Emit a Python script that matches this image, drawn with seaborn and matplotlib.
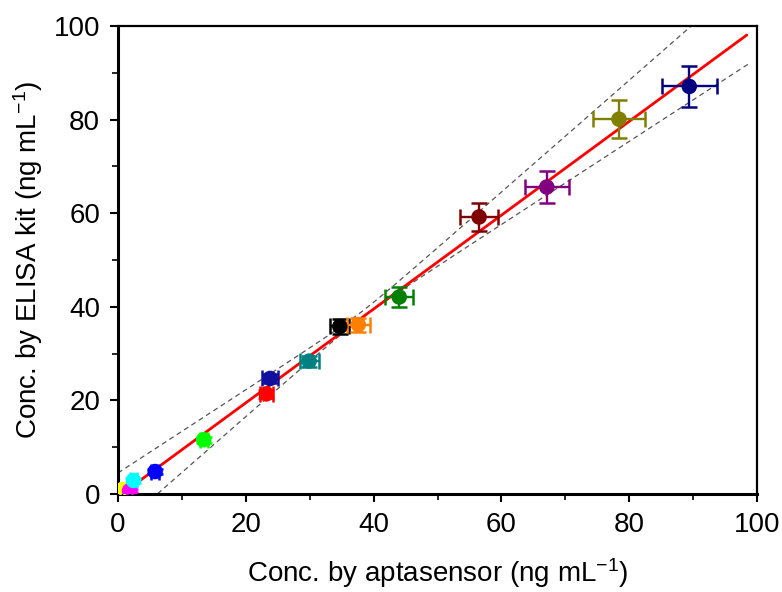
import numpy as np
import pandas as pd
import matplotlib
matplotlib.use('Agg')
import matplotlib.pyplot as plt
import seaborn as sns

# values
aptasensor = [0.6, 1.8, 2.4, 5.8, 13.4, 23.2, 23.8, 29.9, 34.7, 37.6, 44.0, 56.5, 67.1, 78.4, 89.4]
elisa = [0.9, 0.7, 2.9, 4.8, 11.6, 21.4, 24.7, 28.4, 35.8, 36.2, 42.1, 59.2, 65.6, 80.1, 87.1]
aptasensor_err = [0.3, 0.4, 0.5, 0.6, 0.6, 1.0, 1.2, 1.5, 1.5, 1.8, 2.2, 3.0, 3.4, 4.1, 4.3]
elisa_err = [0.3, 0.3, 0.5, 0.6, 0.6, 0.8, 1.0, 1.2, 1.5, 1.5, 2.1, 3.0, 3.4, 4.1, 4.4]
sample_colors = ['#ffff00', '#ff00ff', '#00ffff', '#0000ff', '#00ff00', '#ff0000', '#10109c',
                 '#008080', '#000000', '#ff8000', '#008000', '#800000', '#800080', '#808000', '#000080']

# red fit line drawn over this x range
fit_range = [0.3, 98.4]
# dashed confidence band: centre line and hyperbolic half-width
band_slope, band_intercept = 1.041, -1.4
band_x0, band_a, band_k = 38.0, 0.67, 0.1547
band_range = [0.0, 99.0]

df = pd.DataFrame({'apta': aptasensor, 'elisa': elisa,
                   'xerr': aptasensor_err, 'yerr': elisa_err,
                   'sample': [f's{i}' for i in range(len(aptasensor))]})

sns.set_style('ticks')
plt.rcParams['font.family'] = ['Liberation Sans', 'DejaVu Sans']
plt.rcParams['mathtext.default'] = 'regular'
plt.rcParams['text.color'] = 'black'
plt.rcParams['axes.labelcolor'] = 'black'
plt.rcParams['xtick.color'] = 'black'
plt.rcParams['ytick.color'] = 'black'

fig = plt.figure(figsize=(7.82, 5.92), dpi=100)
ax = fig.add_axes([0.151, 0.1655, 0.817, 0.7905])

# band
bx = np.linspace(band_range[0], band_range[1], 200)
centre = band_slope * bx + band_intercept
half = np.sqrt(band_a ** 2 + (band_k * (bx - band_x0)) ** 2)
ax.plot(bx, centre + half, color='#555555', lw=0.9, ls=(0, (4, 3)), zorder=1)
ax.plot(bx, centre - half, color='#555555', lw=0.9, ls=(0, (4, 3)), zorder=1)

# linear fit
slope, intercept = np.polyfit(df['apta'], df['elisa'], 1)
fx = np.array(fit_range)
ax.plot(fx, slope * fx + intercept, color='red', lw=2, zorder=2)

# error bars
for i, row in df.iterrows():
    ax.errorbar(row['apta'], row['elisa'], xerr=row['xerr'], yerr=row['yerr'],
                fmt='none', ecolor=sample_colors[i], elinewidth=1.7, capsize=5.5,
                capthick=1.8, zorder=3)

sns.scatterplot(data=df, x='apta', y='elisa', hue='sample', palette=sample_colors,
                s=125, edgecolor='none', legend=False, zorder=4, ax=ax)

ax.set_xlim(0, 100)
ax.set_ylim(0, 100)
ax.set_xticks([0, 20, 40, 60, 80, 100])
ax.set_yticks([0, 20, 40, 60, 80, 100])
ax.set_xticks(np.arange(10, 100, 20), minor=True)
ax.set_yticks(np.arange(10, 100, 20), minor=True)
ax.tick_params(which='major', direction='out', length=6, width=1.5, labelsize=20, pad=7)
ax.tick_params(which='minor', direction='out', length=4, width=1.2)
ax.tick_params(top=False, right=False, which='both')

for side in ['left', 'bottom', 'top', 'right']:
    ax.spines[side].set_visible(True)
    ax.spines[side].set_color('black')
ax.spines['left'].set_linewidth(2.2)
ax.spines['bottom'].set_linewidth(2.2)
ax.spines['top'].set_linewidth(1.6)
ax.spines['right'].set_linewidth(1.6)

ax.set_xlabel('Conc. by aptasensor (ng mL$^{-1}$)', fontsize=20, labelpad=13)
ax.set_ylabel('Conc. by ELISA kit (ng mL$^{-1}$)', fontsize=20, labelpad=6)

fig.savefig('out.png', dpi=100)
